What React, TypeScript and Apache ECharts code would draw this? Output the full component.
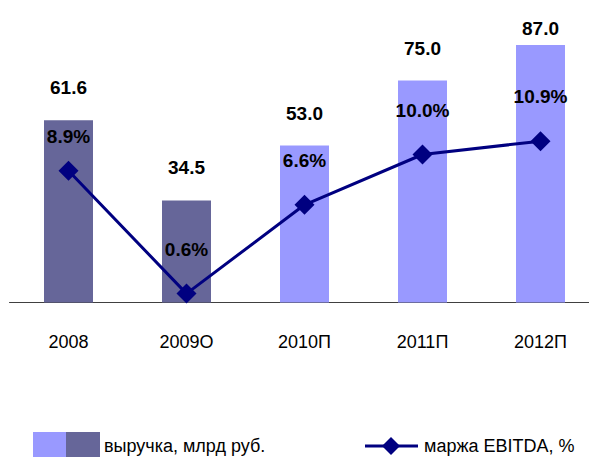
import React, { useEffect, useRef } from "react";
import * as echarts from "echarts";

const categories = ["2008", "2009О", "2010П", "2011П", "2012П"];
const revenue = [61.6, 34.5, 53.0, 75.0, 87.0];
const margin = [8.9, 0.6, 6.6, 10.0, 10.9];
const actualCount = 2;
const revenueName = "выручка, млрд руб.";
const marginName = "маржа EBITDA, %";

const FONT = "'Liberation Sans', Arial, sans-serif";
const DARK = "#666699";
const LIGHT = "#9999FF";
const NAVY = "#000080";

export default function App() {
  const ref = useRef<HTMLDivElement>(null);
  useEffect(() => {
    if (!ref.current) return;
    const chart = echarts.init(ref.current, null, { renderer: "svg" });
    const barData = revenue.map((v, i) => ({
      value: v,
      itemStyle: { color: i < actualCount ? DARK : LIGHT },
      label: i === revenue.length - 1 ? { distance: 7 } : undefined,
    }));
    const lineData = margin.map((v, i) => ({
      value: v,
      label: i === 0 ? { distance: 15 } : undefined,
    }));
    chart.setOption({
      animation: false,
      grid: { left: 9.5, top: 6.5, width: 590, height: 296, containLabel: false },
      xAxis: {
        type: "category",
        data: categories,
        axisLine: { lineStyle: { color: "#404040", width: 1 } },
        axisTick: { show: false },
        axisLabel: { color: "#000", fontFamily: FONT, fontSize: 18, margin: 30 },
      },
      yAxis: [
        { type: "value", min: 0, max: 100, show: false },
        { type: "value", min: 0, max: 20, show: false },
      ],
      series: [
        {
          name: revenueName,
          type: "bar",
          data: barData,
          barWidth: 49,
          label: {
            show: true,
            position: "top",
            distance: 23,
            color: "#000",
            fontFamily: FONT,
            fontWeight: "bold",
            fontSize: 19,
            formatter: (p: any) => Number(p.value).toFixed(1),
          },
        },
        {
          name: marginName,
          type: "line",
          yAxisIndex: 1,
          data: lineData,
          symbol: "diamond",
          symbolSize: 20,
          lineStyle: { color: NAVY, width: 3 },
          itemStyle: { color: NAVY },
          label: {
            show: true,
            position: "top",
            distance: 25,
            color: "#000",
            fontFamily: FONT,
            fontWeight: "bold",
            fontSize: 19,
            formatter: (p: any) => Number(p.value).toFixed(1) + "%",
          },
        },
      ],
      graphic: [
        { type: "rect", shape: { x: 33, y: 432, width: 33, height: 25 }, style: { fill: LIGHT } },
        { type: "rect", shape: { x: 66, y: 432, width: 34, height: 25 }, style: { fill: DARK } },
        {
          type: "text",
          x: 104,
          y: 446,
          style: { text: revenueName, fill: "#000", font: `18px ${FONT}`, textVerticalAlign: "middle" },
        },
        { type: "line", shape: { x1: 365, y1: 446, x2: 418, y2: 446 }, style: { stroke: NAVY, lineWidth: 3 } },
        {
          type: "polygon",
          shape: { points: [[391, 437], [400, 446], [391, 455], [382, 446]] },
          style: { fill: NAVY },
        },
        {
          type: "text",
          x: 424,
          y: 446,
          style: { text: marginName, fill: "#000", font: `18px ${FONT}`, textVerticalAlign: "middle" },
        },
      ],
    });
    return () => chart.dispose();
  }, []);
  return (
    <div style={{ position: "absolute", left: 0, top: 0, width: 589, height: 457, overflow: "hidden" }}>
      <div ref={ref} style={{ width: 610, height: 457 }} />
    </div>
  );
}
